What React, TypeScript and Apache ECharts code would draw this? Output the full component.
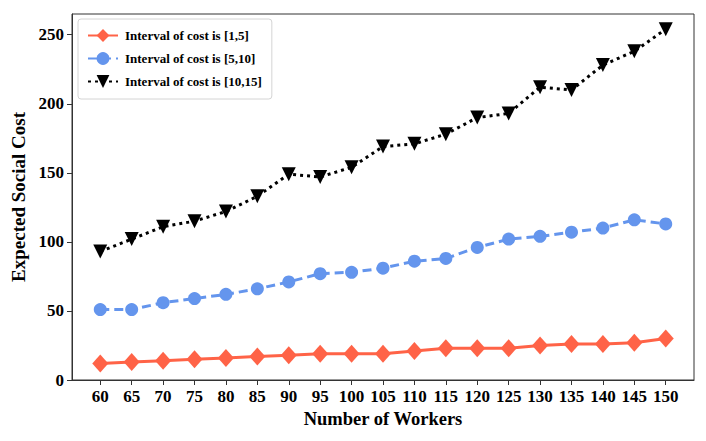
import React, { useEffect, useRef } from "react";
import * as echarts from "echarts";

const workers = [60, 65, 70, 75, 80, 85, 90, 95, 100, 105, 110, 115, 120, 125, 130, 135, 140, 145, 150];
const cost1to5 = [12, 13, 14, 15, 16, 17, 18, 19, 19, 19, 21, 23, 23, 23, 25, 26, 26, 27, 30];
const cost5to10 = [51, 51, 56, 59, 62, 66, 71, 77, 78, 81, 86, 88, 96, 102, 104, 107, 110, 116, 113];
const cost10to15 = [93, 102, 111, 115, 122, 133, 149, 147, 154, 169, 171, 178, 190, 193, 212, 210, 228, 238, 254];
const yTicks = [0, 50, 100, 150, 200, 250];
const seriesNames = ["Interval of cost is [1,5]", "Interval of cost is [5,10]", "Interval of cost is [10,15]"];

const FONT = "'Liberation Serif', 'Times New Roman', serif";

export default function App() {
  const ref = useRef<HTMLDivElement>(null);
  useEffect(() => {
    if (!ref.current) return;
    const chart = echarts.init(ref.current, null, { renderer: "svg" });
    const pairs = (ys: number[]) => workers.map((w, i) => [w, ys[i]]);
    chart.setOption({
      animation: false,
      backgroundColor: "#fff",
      grid: {
        left: 72,
        right: 12,
        top: 14,
        bottom: 61,
        show: true,
        borderColor: "#333",
        borderWidth: 1,
      },
      legend: {
        left: 78,
        top: 19,
        orient: "vertical",
        itemWidth: 30,
        itemHeight: 16,
        itemGap: 10,
        padding: [10, 10, 11, 9],
        borderColor: "#d4d4d4",
        borderWidth: 1,
        borderRadius: 3,
        backgroundColor: "#fff",
        textStyle: { fontFamily: FONT, fontWeight: "bold", fontSize: 13, color: "#000", padding: [0, 0, 0, 2] },
        data: seriesNames,
      },
      xAxis: {
        type: "value",
        min: 55.5,
        max: 154.5,
        name: "Number of Workers",
        nameLocation: "middle",
        nameGap: 29,
        nameTextStyle: { fontFamily: FONT, fontWeight: "bold", fontSize: 18.5, color: "#000" },
        axisLine: { show: true, lineStyle: { color: "#333" } },
        axisTick: { show: true, customValues: workers, length: 5, lineStyle: { color: "#333" } },
        axisLabel: {
          customValues: workers,
          fontFamily: FONT,
          fontWeight: "bold",
          fontSize: 17,
          color: "#000",
          margin: 8,
        },
        splitLine: { show: false },
      },
      yAxis: {
        type: "value",
        min: 0,
        max: 265,
        name: "Expected Social Cost",
        nameLocation: "middle",
        nameGap: 42,
        nameTextStyle: { fontFamily: FONT, fontWeight: "bold", fontSize: 19, color: "#000" },
        axisLine: { show: true, lineStyle: { color: "#333" } },
        axisTick: { show: true, customValues: yTicks, length: 5, lineStyle: { color: "#333" } },
        axisLabel: {
          customValues: yTicks,
          fontFamily: FONT,
          fontWeight: "bold",
          fontSize: 17,
          color: "#000",
          margin: 8,
        },
        splitLine: { show: false },
      },
      series: [
        {
          name: seriesNames[0],
          type: "line",
          data: pairs(cost1to5),
          symbol: "diamond",
          symbolSize: [16, 18],
          itemStyle: { color: "#FF6347" },
          lineStyle: { color: "#FF6347", width: 3, type: "solid" },
          z: 3,
        },
        {
          name: seriesNames[1],
          type: "line",
          data: pairs(cost5to10),
          symbol: "circle",
          symbolSize: 13,
          itemStyle: { color: "#6495ED" },
          lineStyle: { color: "#6495ED", width: 3, type: [9, 5] },
          z: 3,
        },
        {
          name: seriesNames[2],
          type: "line",
          data: pairs(cost10to15),
          symbol: "triangle",
          symbolRotate: 180,
          symbolSize: 14,
          itemStyle: { color: "#000" },
          lineStyle: { color: "#000", width: 3, type: [3, 4] },
          z: 3,
        },
      ],
    });
    return () => chart.dispose();
  }, []);
  return <div ref={ref} style={{ width: 706, height: 441, position: "absolute", left: 0, top: 0 }} />;
}
